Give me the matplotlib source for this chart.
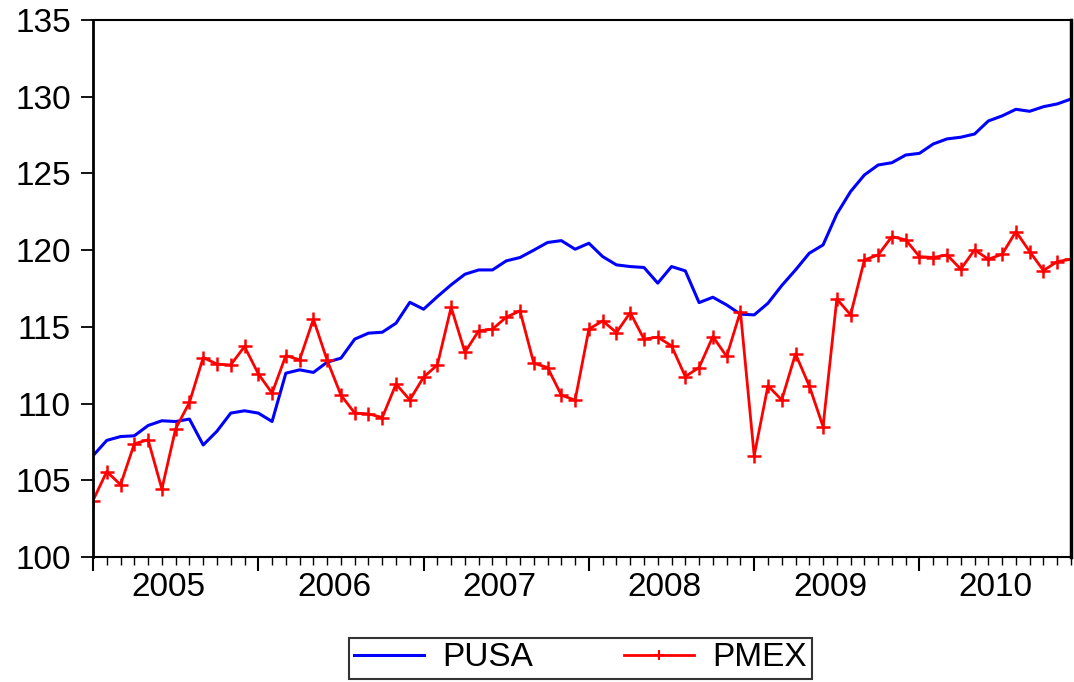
import matplotlib
matplotlib.use("Agg")
import matplotlib.pyplot as plt
import matplotlib.transforms as mtransforms
from matplotlib.ticker import MultipleLocator, NullFormatter

plt.rcParams['font.family'] = ['Liberation Sans', 'DejaVu Sans']

years = ['2005', '2006', '2007', '2008', '2009', '2010']

pusa = [106.6, 107.6, 107.85, 107.9, 108.57, 108.88, 108.83, 108.99, 107.3, 108.2,
        109.38, 109.53, 109.38, 108.83, 111.98, 112.2, 112.03, 112.7, 112.96, 114.2,
        114.59, 114.65, 115.24, 116.6, 116.15, 116.97, 117.74, 118.43, 118.71, 118.71,
        119.3, 119.52, 120.0, 120.5, 120.62, 120.06, 120.45, 119.58, 119.04, 118.93,
        118.87, 117.85, 118.93, 118.65, 116.58, 116.93, 116.43, 115.83, 115.78, 116.54,
        117.69, 118.71, 119.8, 120.34, 122.36, 123.82, 124.9, 125.55, 125.7, 126.2,
        126.31, 126.92, 127.25, 127.36, 127.57, 128.42, 128.75, 129.18, 129.05, 129.35,
        129.53, 129.85]

pmex = [103.68, 105.57, 104.71, 107.38, 107.64, 104.43, 108.36, 110.07, 113.0, 112.57,
        112.52, 113.72, 111.94, 110.68, 113.13, 112.85, 115.5, 112.82, 110.55, 109.38,
        109.33, 109.09, 111.27, 110.24, 111.72, 112.52, 116.28, 113.35, 114.74, 114.85,
        115.63, 116.04, 112.63, 112.35, 110.55, 110.22, 114.85, 115.39, 114.63, 115.93,
        114.2, 114.33, 113.76, 111.76, 112.35, 114.37, 113.07, 116.0, 106.6, 111.16,
        110.24, 113.24, 111.15, 108.5, 116.82, 115.78, 119.36, 119.69, 120.88, 120.67,
        119.58, 119.52, 119.69, 118.76, 120.02, 119.41, 119.73, 121.21, 119.91, 118.67,
        119.25, 119.41]

months = list(range(len(pusa)))

fig = plt.figure(figsize=(10.74, 6.82), dpi=100)
ax = fig.add_axes([93/1074, 1-557/682, (1071-93)/1074, (557-20)/682])

l1, = ax.plot(months, pusa, color='#0000ff', lw=2.2, label='PUSA')
l2, = ax.plot(months, pmex, color='#ff0000', lw=2.0, marker='+', markersize=10,
              markeredgewidth=1.8, label='PMEX')

ax.set_xlim(0, len(pusa) - 1)
ax.set_ylim(100, 135)
ax.set_yticks([100, 105, 110, 115, 120, 125, 130, 135])
ax.tick_params(axis='y', direction='out', length=9, width=1.3, labelsize=24, pad=7)

ax.xaxis.set_major_locator(MultipleLocator(12))
ax.xaxis.set_minor_locator(MultipleLocator(1))
ax.xaxis.set_major_formatter(NullFormatter())
ax.tick_params(axis='x', which='major', direction='out', length=10, width=1.5)
ax.tick_params(axis='x', which='minor', direction='out', length=6, width=1.0)

trans = mtransforms.blended_transform_factory(ax.transData, ax.transAxes)
for k, yr in enumerate(years):
    ax.text(5.5 + 12 * k, -0.057, yr, transform=trans, ha='center', va='center',
            fontsize=24)

for s in ax.spines.values():
    s.set_color('black')
ax.spines['left'].set_linewidth(2.0)
ax.spines['top'].set_linewidth(1.5)
ax.spines['right'].set_linewidth(2.5)
ax.spines['bottom'].set_linewidth(1.5)

leg = fig.legend(handles=[l1, l2], labels=['PUSA', 'PMEX'], ncol=2,
                 loc='center', mode='expand',
                 bbox_to_anchor=(349/1074, 1-681/682, 463/1074, 46/682),
                 fontsize=24, frameon=True, fancybox=False, handlelength=2.1,
                 columnspacing=1.0, handletextpad=0.55, borderpad=0.15,
                 borderaxespad=0.0)
leg.get_frame().set_edgecolor('black')
leg.get_frame().set_linewidth(1.5)
leg.legend_handles[1].set_markersize(7)
leg.legend_handles[1].set_markeredgewidth(1.5)

fig.savefig('out.png', dpi=100)
